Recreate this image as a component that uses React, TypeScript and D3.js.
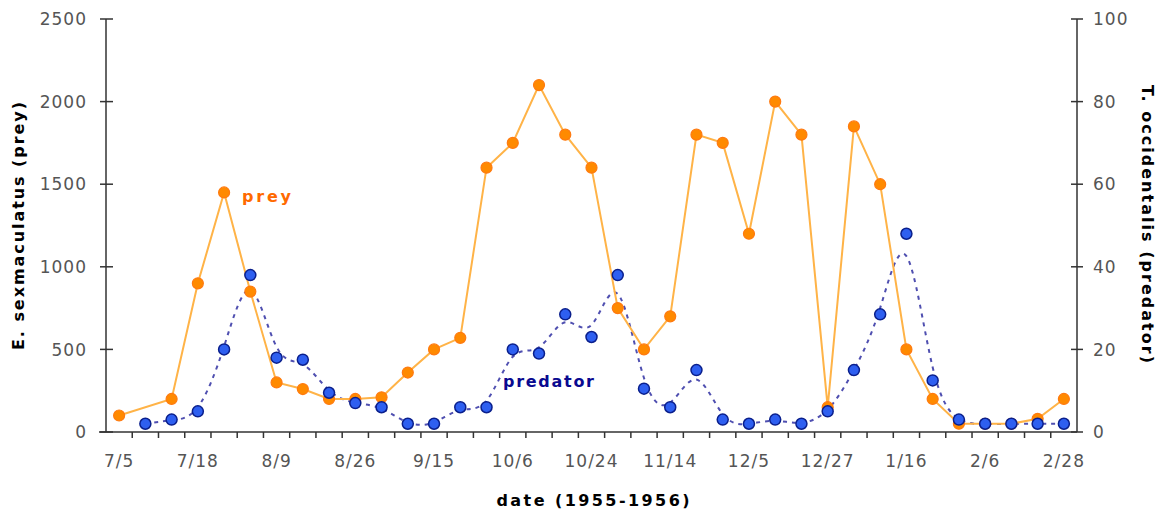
import React, { useRef, useEffect } from "react";
import * as d3 from "d3";

// 37 sampling dates, one label every third sample
const sampleCount = 37;
const dateLabels = ["7/5", "7/18", "8/9", "8/26", "9/15", "10/6", "10/24", "11/14", "12/5", "12/27", "1/16", "2/6", "2/28"];

// E. sexmaculatus (prey), left axis
const prey: (number | null)[] = [
  100, null, 200, 900, 1450, 850, 300, 260, 200, 200,
  210, 360, 500, 570, 1600, 1750, 2100, 1800, 1600, 750,
  500, 700, 1800, 1750, 1200, 2000, 1800, 150, 1850, 1500,
  500, 200, 50, 50, 50, 80, 200,
];

// T. occidentalis (predator), right axis
const predator: (number | null)[] = [
  null, 2, 3, 5, 20, 38, 18, 17.5, 9.5, 7,
  6, 2, 2, 6, 6, 20, 19, 28.5, 23, 38,
  10.5, 6, 15, 3, 2, 3, 2, 5, 15, 28.5,
  48, 12.5, 3, 2, 2, 2, 2,
];

const preyTicks = [0, 500, 1000, 1500, 2000, 2500];
const predatorTicks = [0, 20, 40, 60, 80, 100];

// B-spline control points pushed out a little so the smoothed
// curve stays closer to the samples (looser than plain curveBasis)
const tighten = (pts: [number, number][], a: number) =>
  pts.map((p, i) => {
    if (i === 0 || i === pts.length - 1) return p;
    const d = pts[i - 1][1] - 2 * p[1] + pts[i + 1][1];
    return [p[0], p[1] - a * d] as [number, number];
  });

const App = () => {
  const ref = useRef<SVGSVGElement>(null);
  const width = 1161;
  const height = 512;

  useEffect(() => {
    const margin = { top: 19, right: 84, bottom: 80, left: 106 };
    const svg = d3.select(ref.current);
    svg.selectAll("*").remove();

    const idx = d3.range(sampleCount);
    const x = d3
      .scaleBand<number>()
      .domain(idx)
      .range([margin.left, width - margin.right]);
    const xEdge = d3
      .scaleLinear()
      .domain([0, sampleCount])
      .range([margin.left, width - margin.right]);
    const cx = (i: number) => (x(i) as number) + x.bandwidth() / 2;

    const yL = d3.scaleLinear().domain([0, 2500]).range([height - margin.bottom, margin.top]);
    const yR = d3.scaleLinear().domain([0, 100]).range([height - margin.bottom, margin.top]);
    const y0 = height - margin.bottom;

    const axisColor = "#333";
    const tickFont = "DejaVu Sans, sans-serif";

    // x axis line + ticks
    const gx = svg.append("g").attr("transform", `translate(0,${y0})`);
    gx.append("line")
      .attr("x1", margin.left - 7)
      .attr("x2", width - margin.right)
      .attr("stroke", axisColor)
      .attr("stroke-width", 1.5);
    gx.selectAll("line.tick")
      .data(d3.range(1, sampleCount))
      .join("line")
      .attr("class", "tick")
      .attr("x1", (d) => xEdge(d))
      .attr("x2", (d) => xEdge(d))
      .attr("y1", 0)
      .attr("y2", 6)
      .attr("stroke", axisColor)
      .attr("stroke-width", 1.5);
    gx.selectAll("text")
      .data(dateLabels)
      .join("text")
      .attr("x", (d, i) => cx(i * 3))
      .attr("y", 35)
      .attr("text-anchor", "middle")
      .attr("fill", "#555")
      .attr("font-family", tickFont)
      .attr("font-size", 17)
      .attr("letter-spacing", 1)
      .text((d) => d);

    // left axis
    const gl = svg.append("g").attr("transform", `translate(${margin.left},0)`);
    gl.append("line")
      .attr("y1", yL(0))
      .attr("y2", yL(2500))
      .attr("stroke", axisColor)
      .attr("stroke-width", 1.5);
    gl.selectAll("line.tick")
      .data(preyTicks)
      .join("line")
      .attr("class", "tick")
      .attr("x1", -6)
      .attr("x2", 7)
      .attr("y1", (d) => yL(d))
      .attr("y2", (d) => yL(d))
      .attr("stroke", axisColor)
      .attr("stroke-width", 1.5);
    gl.selectAll("text")
      .data(preyTicks)
      .join("text")
      .attr("x", -19)
      .attr("y", (d) => yL(d))
      .attr("dy", "0.36em")
      .attr("text-anchor", "end")
      .attr("fill", "#555")
      .attr("font-family", tickFont)
      .attr("font-size", 17)
      .attr("letter-spacing", 1)
      .text((d) => d);

    // right axis
    const gr = svg.append("g").attr("transform", `translate(${width - margin.right},0)`);
    gr.append("line")
      .attr("y1", yR(0))
      .attr("y2", yR(100))
      .attr("stroke", axisColor)
      .attr("stroke-width", 1.5);
    gr.selectAll("line.tick")
      .data(predatorTicks)
      .join("line")
      .attr("class", "tick")
      .attr("x1", -6)
      .attr("x2", 6)
      .attr("y1", (d) => yR(d))
      .attr("y2", (d) => yR(d))
      .attr("stroke", axisColor)
      .attr("stroke-width", 1.5);
    gr.selectAll("text")
      .data(predatorTicks)
      .join("text")
      .attr("x", 16)
      .attr("y", (d) => yR(d))
      .attr("dy", "0.36em")
      .attr("text-anchor", "start")
      .attr("fill", "#555")
      .attr("font-family", tickFont)
      .attr("font-size", 17)
      .attr("letter-spacing", 1)
      .text((d) => d);

    // axis titles
    const bold = (sel: any) =>
      sel
        .attr("font-family", "DejaVu Sans, sans-serif")
        .attr("font-weight", "bold")
        .attr("font-size", 16)
        .attr("lengthAdjust", "spacing");

    svg.append("text")
      .call(bold)
      .attr("transform", "translate(24,226) rotate(-90)")
      .attr("text-anchor", "middle")
      .attr("textLength", 248)
      .text("E. sexmaculatus (prey)");
    svg.append("text")
      .call(bold)
      .attr("transform", "translate(1142,224) rotate(90)")
      .attr("text-anchor", "middle")
      .attr("textLength", 278)
      .text("T. occidentalis (predator)");
    svg.append("text")
      .call(bold)
      .attr("x", 593)
      .attr("y", 506)
      .attr("text-anchor", "middle")
      .attr("textLength", 193)
      .text("date (1955-1956)");

    // series
    const preyPts = idx.filter((i) => prey[i] != null).map((i) => [cx(i), yL(prey[i] as number)] as [number, number]);
    const predPts = idx.filter((i) => predator[i] != null).map((i) => [cx(i), yR(predator[i] as number)] as [number, number]);

    svg.append("path")
      .attr("d", d3.line().curve(d3.curveBasis)(tighten(predPts, 0.12)))
      .attr("fill", "none")
      .attr("stroke", "#4f4fb0")
      .attr("stroke-width", 2)
      .attr("stroke-dasharray", "4,5");

    svg.append("path")
      .attr("d", d3.line()(preyPts))
      .attr("fill", "none")
      .attr("stroke", "#ffb347")
      .attr("stroke-width", 2);

    svg.append("g")
      .selectAll("circle")
      .data(preyPts)
      .join("circle")
      .attr("cx", (d) => d[0])
      .attr("cy", (d) => d[1])
      .attr("r", 5.5)
      .attr("fill", "#ff8a00")
      .attr("stroke", "#ff7a10")
      .attr("stroke-width", 1.2);

    svg.append("g")
      .selectAll("circle")
      .data(predPts)
      .join("circle")
      .attr("cx", (d) => d[0])
      .attr("cy", (d) => d[1])
      .attr("r", 5.5)
      .attr("fill", "#2e5ff0")
      .attr("stroke", "#0a1f8c")
      .attr("stroke-width", 1.5);

    // series labels
    svg.append("text")
      .call(bold)
      .attr("x", 242)
      .attr("y", 202)
      .attr("fill", "#ff6a00")
      .attr("textLength", 49)
      .text("prey");
    svg.append("text")
      .call(bold)
      .attr("x", 503)
      .attr("y", 387)
      .attr("fill", "#0a0a90")
      .attr("textLength", 91)
      .text("predator");
  }, []);

  return (
    <svg
      ref={ref}
      width={width}
      height={height}
      style={{ position: "absolute", left: 0, top: 0, background: "#fff" }}
    />
  );
};

export default App;
